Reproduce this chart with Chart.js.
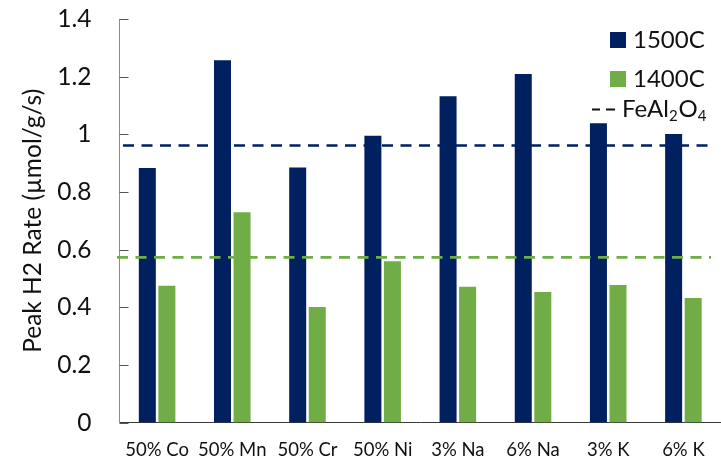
<!DOCTYPE html>
<html>
<head>
<meta charset="utf-8">
<script src="https://cdn.jsdelivr.net/npm/chart.js@4/dist/chart.umd.min.js"></script>
<style>
  html, body { margin: 0; padding: 0; background: #fff; overflow: hidden; }
  canvas { display: block; }
</style>
</head>
<body>
<canvas id="c" width="721" height="460"></canvas>
<script>
// Peak H2 production rate per dopant, at two reduction temperatures
const categories = ['50% Co', '50% Mn', '50% Cr', '50% Ni', '3% Na', '6% Na', '3% K', '6% K'];
const rate1500 = [0.883, 1.257, 0.885, 0.995, 1.132, 1.209, 1.038, 1.001];
const rate1400 = [0.475, 0.730, 0.401, 0.560, 0.471, 0.453, 0.477, 0.432];
// Undoped FeAl2O4 reference rates (dashed lines)
const feal2o4Rate1500 = 0.961;
const feal2o4Rate1400 = 0.573;
const yTickValues = [0, 0.2, 0.4, 0.6, 0.8, 1, 1.2, 1.4];

const BLUE = '#002060';
const GREEN = '#70AD47';
const FONT = 'Lato, "Open Sans", sans-serif';
const TEXT = '#111';

// Dashed horizontal reference lines, placed through the value scale
const referenceLines = {
  id: 'referenceLines',
  afterDatasetsDraw(chart) {
    const ys = chart.scales.y;
    const { left, right } = chart.chartArea;
    const ctx = chart.ctx;
    const lines = [
      { value: feal2o4Rate1500, color: BLUE, from: left + 3.5, to: right - 9 },
      { value: feal2o4Rate1400, color: GREEN, from: left - 2.5, to: right - 10 }
    ];
    ctx.save();
    ctx.lineWidth = 2.6;
    ctx.setLineDash([11, 7.5]);
    lines.forEach(l => {
      const py = ys.getPixelForValue(l.value);
      ctx.strokeStyle = l.color;
      ctx.beginPath();
      ctx.moveTo(l.from, py);
      ctx.lineTo(l.to, py);
      ctx.stroke();
    });
    ctx.restore();
  }
};

// Short tick marks pointing into the plot from the value axis
const innerTicks = {
  id: 'innerTicks',
  afterDatasetsDraw(chart) {
    const ys = chart.scales.y;
    const x0 = chart.chartArea.left;
    const ctx = chart.ctx;
    ctx.save();
    ctx.strokeStyle = '#555';
    ctx.lineWidth = 1;
    ys.ticks.forEach(t => {
      const py = Math.round(ys.getPixelForValue(t.value)) + 0.5;
      ctx.beginPath();
      ctx.moveTo(x0, py);
      ctx.lineTo(x0 + 9, py);
      ctx.stroke();
    });
    ctx.restore();
  }
};

// Legend in the upper right corner, with chemical subscripts
const cornerLegend = {
  id: 'cornerLegend',
  afterDraw(chart) {
    const ctx = chart.ctx;
    ctx.save();
    ctx.textBaseline = 'alphabetic';
    ctx.textAlign = 'left';
    ctx.font = '24px ' + FONT;

    ctx.fillStyle = BLUE;
    ctx.fillRect(610, 32, 16, 16);
    ctx.fillStyle = TEXT;
    ctx.fillText('1500C', 633, 48);

    ctx.fillStyle = GREEN;
    ctx.fillRect(610, 71, 16, 16);
    ctx.fillStyle = TEXT;
    ctx.fillText('1400C', 633, 87);

    ctx.strokeStyle = TEXT;
    ctx.lineWidth = 2.2;
    ctx.beginPath();
    ctx.moveTo(592, 109.5); ctx.lineTo(600, 109.5);
    ctx.moveTo(606, 109.5); ctx.lineTo(615, 109.5);
    ctx.stroke();

    const base = 117;
    let x = 622;
    const parts = [['FeAl', false], ['2', true], ['O', false], ['4', true]];
    parts.forEach(([s, sub]) => {
      ctx.font = (sub ? '15px ' : '24px ') + FONT;
      ctx.fillText(s, x, sub ? base + 4 : base);
      x += ctx.measureText(s).width + (sub ? 1 : 0);
    });
    ctx.restore();
  }
};

const fmt = v => String(Number(v.toFixed(1)));

new Chart(document.getElementById('c'), {
  type: 'bar',
  data: {
    labels: categories,
    datasets: [
      {
        label: '1500C',
        data: rate1500,
        backgroundColor: BLUE,
        categoryPercentage: 0.52,
        barPercentage: 0.87
      },
      {
        label: '1400C',
        data: rate1400,
        backgroundColor: GREEN,
        categoryPercentage: 0.52,
        barPercentage: 0.87
      }
    ]
  },
  options: {
    responsive: false,
    animation: false,
    layout: { padding: { top: 19, right: 0, bottom: 0, left: 0 } },
    plugins: {
      legend: { display: false },
      tooltip: { enabled: false },
      title: { display: false }
    },
    scales: {
      x: {
        type: 'category',
        grid: { display: false, drawTicks: false },
        border: { display: true, color: '#3a3a3a', width: 1 },
        ticks: {
          color: TEXT,
          font: { family: FONT, size: 18.5 },
          padding: 16,
          maxRotation: 0,
          autoSkip: false
        },
        afterFit(scale) { scale.height = 37.4; }
      },
      y: {
        min: 0,
        max: 1.4,
        grid: { display: false, drawTicks: false },
        border: { display: true, color: '#8c8c8c', width: 1 },
        afterBuildTicks(scale) {
          scale.ticks = yTickValues.map(v => ({ value: v }));
        },
        ticks: {
          color: TEXT,
          font: { family: FONT, size: 24.5 },
          padding: 28,
          callback: v => fmt(v)
        },
        title: {
          display: true,
          text: 'Peak H2 Rate (µmol/g/s)',
          color: TEXT,
          font: { family: FONT, size: 24.5 },
          padding: { top: 18, bottom: 0 }
        },
        afterFit(scale) {
          scale.width = 119.5;
          scale.paddingTop = 0;
          scale.paddingBottom = 0;
        }
      }
    }
  },
  plugins: [referenceLines, innerTicks, cornerLegend]
});
</script>
</body>
</html>
